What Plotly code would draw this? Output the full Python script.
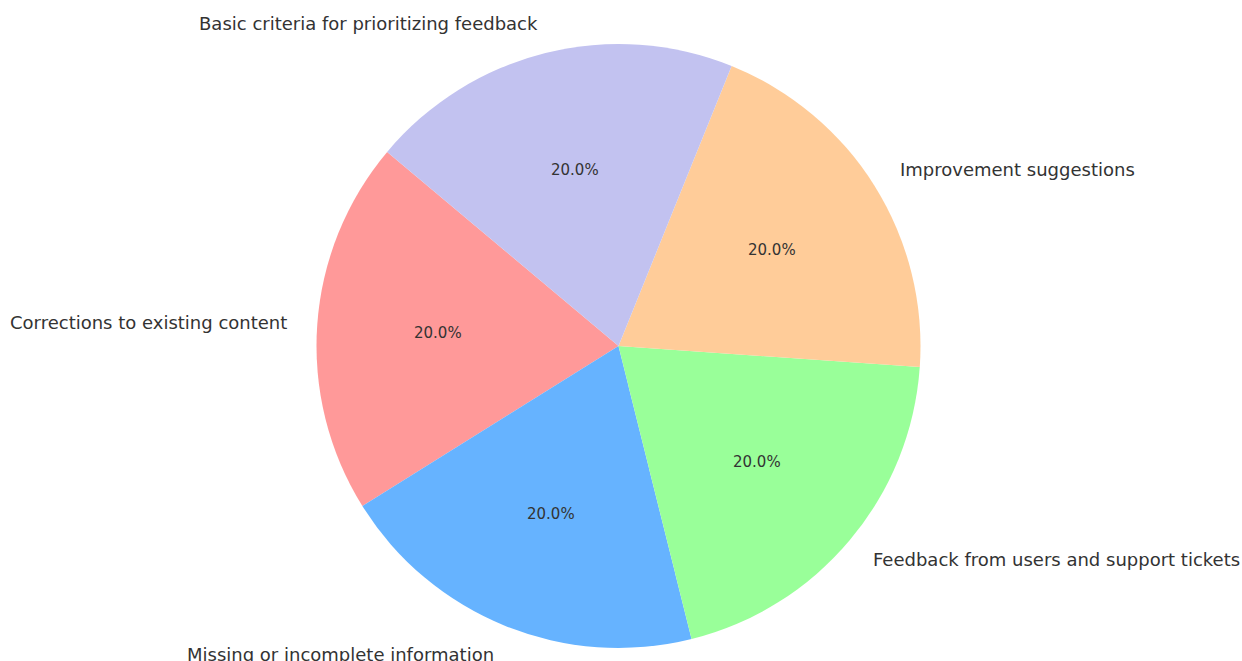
import math
import plotly.graph_objects as go

labels = [
    "Corrections to existing content",
    "Missing or incomplete information",
    "Feedback from users and support tickets",
    "Improvement suggestions",
    "Basic criteria for prioritizing feedback",
]
values = [20, 20, 20, 20, 20]
colors = ["#ff9999", "#66b3ff", "#99ff99", "#ffcc99", "#c2c2f0"]

START_ANGLE = 140  # degrees, counterclockwise from +x (matplotlib convention)

W, H = 1242, 661
CX, CY, R = 618.5, 346.0, 302.0  # pie centre and radius in pixels
PAD = 2  # plotly annotation inner padding compensation (px)

total = sum(values)
first_frac = values[0] / total
# plotly (counterclockwise): first slice ends at the rotation angle
first_end = START_ANGLE + 360 * first_frac

fig = go.Figure()
fig.add_trace(go.Pie(
    labels=labels,
    values=values,
    marker=dict(colors=colors, line=dict(width=0)),
    sort=False,
    direction="counterclockwise",
    rotation=-(first_end - 90),
    textinfo="none",
    hoverinfo="label+percent",
    showlegend=False,
    domain=dict(x=[(CX - R) / W, (CX + R) / W],
                y=[(H - CY - R) / H, (H - CY + R) / H]),
))

annotations = []
acc = 0.0
for lab, v in zip(labels, values):
    frac = v / total
    mid = math.radians(START_ANGLE + 360 * (acc + frac / 2))
    acc += frac
    c, s = math.cos(mid), math.sin(mid)
    px = CX + 0.6 * R * c
    py = CY - 0.6 * R * s
    annotations.append(dict(
        x=px / W, y=1 - py / H, xref="paper", yref="paper",
        text=f"{100 * frac:.1f}%", showarrow=False,
        xanchor="center", yanchor="middle",
        font=dict(family="DejaVu Sans", size=15, color="#333333"),
    ))
    lx = CX + 1.1 * R * c
    ly = CY - 1.1 * R * s
    right = c > 0
    lx = lx - PAD if right else lx + PAD
    annotations.append(dict(
        x=lx / W, y=1 - ly / H, xref="paper", yref="paper",
        text=lab, showarrow=False,
        xanchor="left" if right else "right", yanchor="middle",
        font=dict(family="DejaVu Sans", size=18, color="#333333"),
    ))

fig.update_layout(
    width=W, height=H,
    margin=dict(l=0, r=0, t=0, b=0),
    paper_bgcolor="white",
    plot_bgcolor="white",
    annotations=annotations,
)

fig.write_html(
    "out.html",
    config={"displayModeBar": False},
    post_script="document.body.style.margin='0';document.body.style.overflow='hidden';",
)
